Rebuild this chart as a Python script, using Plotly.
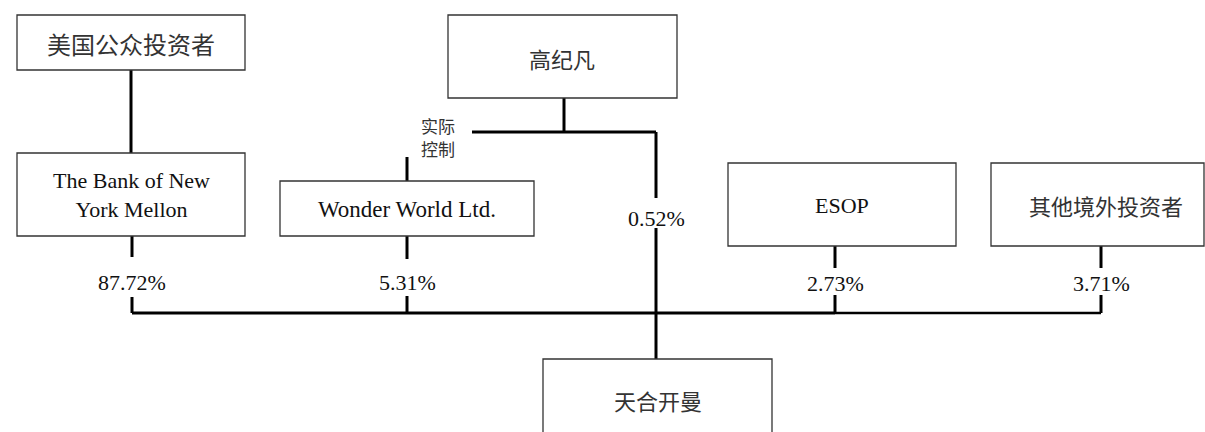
import plotly.graph_objects as go

# ---- data ----
entities = ["美国公众投资者", "The Bank of New<br>York Mellon", "高纪凡",
            "Wonder World Ltd.", "ESOP", "其他境外投资者", "天合开曼"]
holders = ["The Bank of New York Mellon", "Wonder World Ltd.", "高纪凡", "ESOP", "其他境外投资者"]
stakes = [87.72, 5.31, 0.52, 2.73, 3.71]
control_label = ["实际", "控制"]

# ---- layout geometry (pixels, y downward) ----
W, H = 1205, 432
boxes = {  # x0, x1, y0, y1, text x, text y, font size
    "美国公众投资者": (17, 245, 15, 70, 131, 43, 24),
    "The Bank of New<br>York Mellon": (17, 245, 153, 236, 131, 195, 22),
    "高纪凡": (448, 677, 15, 98, 562, 58, 22),
    "Wonder World Ltd.": (280, 534, 181, 236, 407, 209, 23),
    "ESOP": (728, 956, 163, 246, 842, 205, 22),
    "其他境外投资者": (991, 1204, 163, 246, 1106, 205, 22),
    "天合开曼": (543, 772, 359, 445, 658, 400, 22),
}
# holder stub x, top of upper stub, bottom of upper stub, label y, top of lower stub
stubs = {
    "The Bank of New York Mellon": (132, 236, 257, 282, 297),
    "Wonder World Ltd.": (407, 236, 259, 282, 296),
    "ESOP": (835, 246, 268, 283, 295),
    "其他境外投资者": (1101, 246, 268, 283, 295),
}
BUS_Y = 313

fig = go.Figure()

def is_cjk(s):
    return any('\u4e00' <= ch <= '\u9fff' for ch in s)

shapes = []
for name in entities:
    x0, x1, y0, y1, tx, ty, fs = boxes[name]
    shapes.append(dict(type="rect", xref="x", yref="y", x0=x0, x1=x1, y0=y0, y1=y1,
                       line=dict(color="#333333", width=1.3), fillcolor="rgba(0,0,0,0)"))
    fig.add_annotation(x=tx, y=ty, text=name, showarrow=False, xref="x", yref="y",
                       font=dict(family="Noto Sans CJK SC" if is_cjk(name) else "Liberation Serif",
                                 size=fs,
                                 color="#333333" if is_cjk(name) else "#111111"))

# connector lines
lx, ly = [], []
def seg(x0, y0, x1, y1):
    lx.extend([x0, x1, None]); ly.extend([y0, y1, None])

# public investors -> bank
seg(131, 70, 131, 153)
# holders to bus
for h, v in zip(holders, stakes):
    if h in stubs:
        sx, a, b, labely, c = stubs[h]
        seg(sx, a, sx, b)
        seg(sx, c, sx, BUS_Y)
        fig.add_annotation(x=sx, y=labely, text=f"{v:.2f}%", showarrow=False,
                           font=dict(family="Liberation Serif", size=22, color="#111111"))
    else:
        # 高纪凡 direct stake
        seg(564, 98, 564, 132)
        seg(472, 132, 656, 132)
        seg(656, 132, 656, 198)
        seg(656, 228, 656, 359)
        fig.add_annotation(x=656, y=218, text=f"{v:.2f}%", showarrow=False,
                           font=dict(family="Liberation Serif", size=22, color="#111111"))
# control stub to Wonder World
seg(407, 157, 407, 181)
# bus
seg(132, BUS_Y, 835, BUS_Y)
fig.add_trace(go.Scatter(x=lx, y=ly, mode="lines", line=dict(color="#000000", width=3),
                         hoverinfo="skip", showlegend=False))
fig.add_trace(go.Scatter(x=[835, 1101], y=[BUS_Y, BUS_Y], mode="lines",
                         line=dict(color="#000000", width=2.5), hoverinfo="skip", showlegend=False))

for txt, yy in zip(control_label, [125, 148]):
    fig.add_annotation(x=438, y=yy, text=txt, showarrow=False, borderpad=0,
                       font=dict(family="Noto Sans CJK SC", size=17, color="#333333"))

fig.update_layout(
    width=W, height=H, margin=dict(l=0, r=0, t=0, b=0),
    paper_bgcolor="white", plot_bgcolor="white", shapes=shapes,
    xaxis=dict(range=[0, W], visible=False, fixedrange=True),
    yaxis=dict(range=[H, 0], visible=False, fixedrange=True),
    showlegend=False,
)
fig.write_html("out.html", config={"displayModeBar": False},
               post_script="document.body.style.margin='0';document.body.style.overflow='hidden';")
